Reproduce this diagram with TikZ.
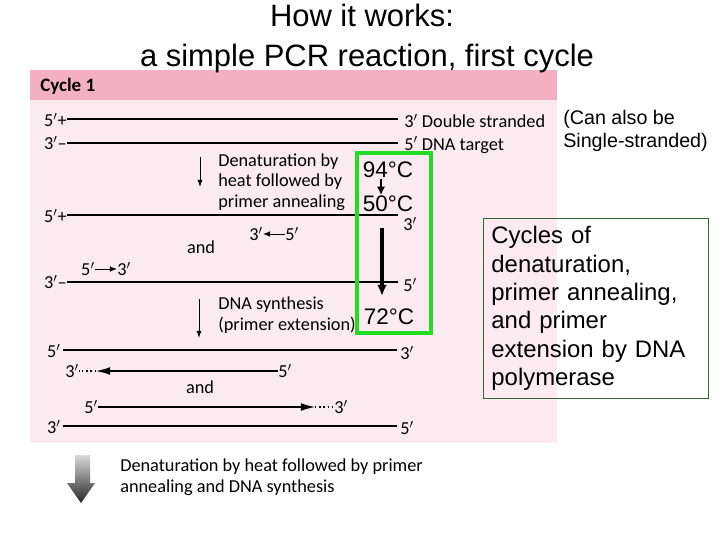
\documentclass[tikz,border=0pt]{standalone}
\usepackage{fontspec}
\setmainfont{Liberation Sans}
\newfontfamily\bookfont{Carlito}
\usepackage{xcolor}
\usepackage{tikz}
\usetikzlibrary{arrows.meta,positioning,calc}
\definecolor{panelpink}{HTML}{FBEBF1}
\definecolor{bandpink}{HTML}{F3B0C3}
\definecolor{tempgreen}{HTML}{22DD22}
\definecolor{notegreen}{HTML}{336633}
\newcommand{\pr}{$'$}

\begin{document}
\begin{tikzpicture}[
  x=0.025cm, y=-0.025cm,
  every node/.style={inner sep=0pt},
  book/.style={font={\bookfont\fontsize{13}{14.5}\selectfont}, align=left},
  title/.style={font={\fontsize{22}{26}\selectfont}},
  temp/.style={font={\fontsize{16}{18}\selectfont}},
  strand/.style={line width=1.3pt},
  newstrand/.style={line width=0.8pt, -{Latex[length=10pt,width=5.5pt]}},
  dotext/.style={line width=1pt, dash pattern=on 1pt off 2pt},
  primer/.style={line width=0.7pt, -{Latex[length=5pt,width=4pt]}},
  down/.style={line width=0.6pt, -{Latex[length=5pt,width=3.5pt]}},
  tarrow/.style={line width=2.2pt, -{Latex[length=8pt,width=7pt]}},
  tempbox/.style={draw=tempgreen, line width=2.8pt, minimum width=1.85cm, minimum height=4.5cm},
  note/.style={draw=notegreen, line width=0.6pt, text width=5.225cm, inner xsep=0.2cm, minimum height=4.5cm, align=left, font={\fontsize{17}{20.2}\selectfont}},
]
\useasboundingbox (0,0) rectangle (720,540);
\fill[panelpink] (30,70) rectangle (557,443);
\fill[bandpink] (30,70) rectangle (557,100);
\node[title] (t1) at (362,15) {How it works:};
\node[title] (t2) at (367,58) {a simple PCR reaction, first cycle};
\node[font={\bookfont\bfseries\fontsize{13.5}{15}\selectfont}, anchor=west] (cyc) at (40,86) {Cycle 1};
\coordinate (s1a) at (67,119);
\coordinate (s1b) at (398,119);
\coordinate (s2a) at (67,143);
\coordinate (s2b) at (398,143);
\coordinate (s3a) at (67,215);
\coordinate (s3b) at (398,215);
\coordinate (s4a) at (67,282);
\coordinate (s4b) at (398,282);
\draw[strand] (s1a) -- (s1b);
\draw[strand] (s2a) -- (s2b);
\draw[strand] (s3a) -- (s3b);
\draw[strand] (s4a) -- (s4b);
\node[book, anchor=east] (l1) at (67,120) {5\pr+};
\node[book, anchor=west] (r1) at (404,121) {3\pr\ Double stranded};
\node[book, anchor=east] (l2) at (67,143) {3\pr\textendash};
\node[book, anchor=west] (r2) at (404,145) {5\pr\ DNA target};
\node[book, anchor=east] (l3) at (67,216) {5\pr+};
\node[book, anchor=west] (r3) at (403,224) {3\pr};
\node[book, anchor=east] (l4) at (67,282) {3\pr\textendash};
\node[book, anchor=west] (r4) at (403,285) {5\pr};
\coordinate (d1a) at (200,157);
\coordinate (d1b) at (200,187);
\draw[down] (d1a) -- (d1b);
\node[book, anchor=west] (denat) at (218,182) {Denaturation by\\heat followed by\\primer annealing};
\node[book] (p1a) at (256,234) {3\pr};
\node[book] (p1b) at (292,234) {5\pr};
\draw[primer] (p1b) -- (p1a);
\node[book] (and1) at (201,247) {and};
\node[book] (p2a) at (88,269) {5\pr};
\node[book] (p2b) at (124,269) {3\pr};
\draw[primer] (p2a) -- (p2b);
\coordinate (d2a) at (199,299);
\coordinate (d2b) at (199,338);
\draw[down] (d2a) -- (d2b);
\node[book, anchor=west] (synth) at (218,315) {DNA synthesis\\(primer extension)};
\coordinate (s5a) at (63,350);
\coordinate (s5b) at (397,350);
\draw[strand] (s5a) -- (s5b);
\node[book, anchor=east] (l5) at (61,351) {5\pr};
\node[book, anchor=west] (r5) at (400,353) {3\pr};
\node[book] (l6) at (72,371) {3\pr};
\node[book] (r6) at (285,371) {5\pr};
\coordinate (s6t) at (96,371);
\draw[newstrand] (r6) -- (s6t);
\draw[dotext] (s6t) -- (l6);
\node[book] (and2) at (200,387) {and};
\node[book] (l7) at (91,407) {5\pr};
\node[book] (r7) at (341,407) {3\pr};
\coordinate (s7t) at (315,407);
\draw[newstrand] (l7) -- (s7t);
\draw[dotext] (s7t) -- (r7);
\coordinate (s8a) at (63,426);
\coordinate (s8b) at (397,426);
\draw[strand] (s8a) -- (s8b);
\node[book, anchor=east] (l8) at (61,427) {3\pr};
\node[book, anchor=west] (r8) at (400,428) {5\pr};
\node[tempbox] (tbox) at (394,243) {};
\node[temp] (t94) at (388,170) {94°C};
\node[temp] (t50) at (388,204) {50°C};
\node[temp] (t72) at (389,317) {72°C};
\coordinate (h1) at (381,179);
\coordinate (h2) at (381,195);
\draw[tarrow, line width=1.2pt, -{Latex[length=6pt,width=6pt]}] (h1) -- (h2);
\coordinate (h3) at (382,228);
\coordinate (h4) at (382,296);
\draw[tarrow] (h3) -- (h4);
\node[anchor=west, align=left, font={\fontsize{14}{16.3}\selectfont}] (alt) at (563,131) {(Can also be\\Single-stranded)};
\node[note, anchor=north west] (cycles) at (483,218) {Cycles of\\denaturation,\\primer annealing,\\and primer\\extension by DNA\\polymerase};
\shade[top color=gray!30, bottom color=black!85] (75,455) -- (90,455) -- (90,483) -- (95,483) -- (81,503) -- (67,483) -- (75,483) -- cycle;
\node[book, anchor=west, font={\bookfont\fontsize{13}{15}\selectfont}] (next) at (120,477) {Denaturation by heat followed by primer\\annealing and DNA synthesis};
\end{tikzpicture}
\end{document}
